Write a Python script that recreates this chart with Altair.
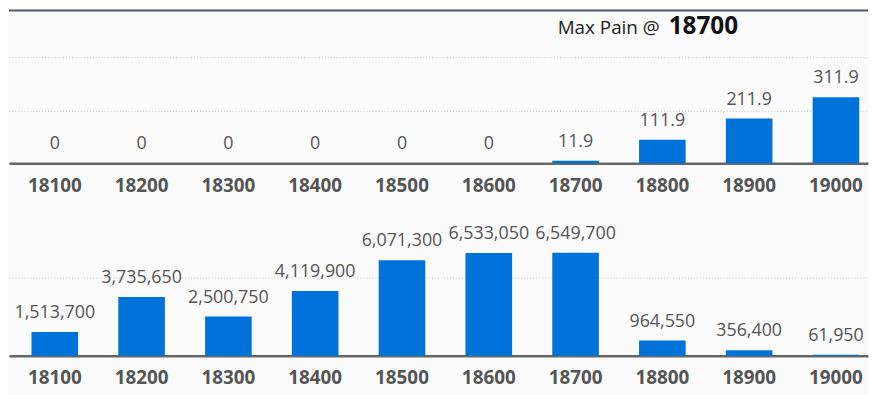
import altair as alt
import pandas as pd

strikes = ["18100", "18200", "18300", "18400", "18500", "18600", "18700", "18800", "18900", "19000"]
pain_values = [0, 0, 0, 0, 0, 0, 11.9, 111.9, 211.9, 311.9]
oi_values = [1513700, 3735650, 2500750, 4119900, 6071300, 6533050, 6549700, 964550, 356400, 61950]
title_prefix = ["Max Pain @"]
title_strike = ["18700"]

BLUE = "#0073da"
FONT = "Open Sans"

top_df = pd.DataFrame({"strike": strikes, "value": pain_values})
bot_df = pd.DataFrame({"strike": strikes, "value": oi_values})

xscale = alt.Scale(paddingInner=0.463, paddingOuter=0.18, align=0.72, round=False)
xaxis = alt.Axis(title=None, labelAngle=0, ticks=False, tickSize=0, labelPadding=13,
                 labelFont=FONT, labelFontWeight="bold", labelFontSize=19, labelColor="#555555",
                 domainColor="#666666", domainWidth=2.5)


def yaxis(vals):
    return alt.Axis(title=None, labels=False, ticks=False, domain=False, grid=True,
                    gridDash=[1, 2], gridColor="#c4c4c4", gridWidth=1, minExtent=0, values=vals)


x_enc = alt.X("strike:N", sort=strikes, scale=xscale, axis=xaxis)

top_base = alt.Chart(top_df)
top_bars = top_base.mark_bar(color=BLUE).encode(
    x=x_enc,
    y=alt.Y("value:Q", scale=alt.Scale(domain=[0, 725], nice=False), axis=yaxis([0, 250, 500])),
)
top_text = top_base.mark_text(dy=-10, baseline="bottom", fontSize=18, font=FONT, color="#555555").encode(
    x=alt.X("strike:N", sort=strikes),
    y="value:Q",
    text=alt.Text("value:Q", format="~g"),
)
top_line = alt.Chart(pd.DataFrame({"a": [0]})).mark_rule(color="#4f5868", strokeWidth=2).encode(
    x=alt.value(0), x2=alt.value(866), y=alt.value(1)
)
t1 = alt.Chart(pd.DataFrame({"t": title_prefix})).mark_text(
    align="right", baseline="alphabetic", fontSize=19, font=FONT, color="#222222"
).encode(x=alt.value(656), y=alt.value(25), text="t:N")
t2 = alt.Chart(pd.DataFrame({"t": title_strike})).mark_text(
    align="left", baseline="alphabetic", fontSize=24.5, font=FONT, fontWeight="bold", color="#111111"
).encode(x=alt.value(665), y=alt.value(25), text="t:N")

top = alt.layer(top_bars, top_text, top_line, t1, t2).properties(width=866, height=155)

bot_base = alt.Chart(bot_df)
bot_bars = bot_base.mark_bar(color=BLUE).encode(
    x=x_enc,
    y=alt.Y("value:Q", scale=alt.Scale(domain=[0, 9320000], nice=False), axis=yaxis([0, 5000000])),
)
bot_text = bot_base.mark_text(dy=-10, baseline="bottom", fontSize=18, font=FONT, color="#555555").encode(
    x=alt.X("strike:N", sort=strikes),
    y="value:Q",
    text=alt.Text("value:Q", format=","),
)
bottom = alt.layer(bot_bars, bot_text).properties(width=866, height=148)

chart = alt.vconcat(top, bottom, spacing=14).properties(
    padding={"left": 0, "top": 0, "right": 0, "bottom": 20}, background="#fbfbfb"
).configure_view(stroke=None).resolve_scale(y="independent")

chart.save("out.html", embed_options={"renderer": "svg", "actions": False})
